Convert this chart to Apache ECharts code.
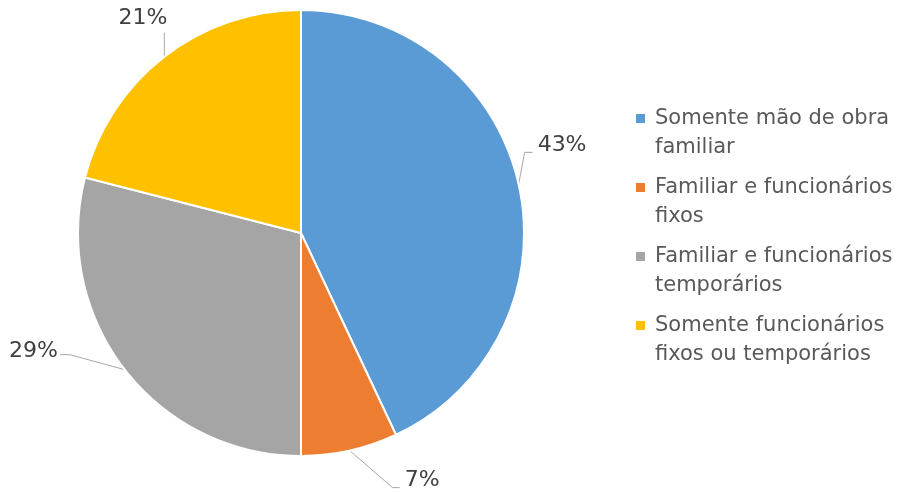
<!DOCTYPE html>
<html>
<head>
<meta charset="utf-8">
<script src="https://cdn.jsdelivr.net/npm/echarts@6/dist/echarts.min.js"></script>
<style>
  html, body { margin: 0; padding: 0; background: #fff; }
  #chart { width: 905px; height: 492px; }
</style>
</head>
<body>
<div id="chart"></div>
<script>
// dados
var categories = [
  'Somente mão de obra familiar',
  'Familiar e funcionários fixos',
  'Familiar e funcionários temporários',
  'Somente funcionários fixos ou temporários'
];
var legendLines = [
  'Somente mão de obra\nfamiliar',
  'Familiar e funcionários\nfixos',
  'Familiar e funcionários\ntemporários',
  'Somente funcionários\nfixos ou temporários'
];
var values = [43, 7, 29, 21];
var colors = ['#5B9BD5', '#ED7D31', '#A5A5A5', '#FFC000'];

// estilo das linhas de rótulo (tipo Excel): cotovelo, trecho horizontal, deslocamento do texto
var labelStyleByIndex = [
  { elbow: [6, -32], h: 8, off: [5, -7], align: 'left' },
  { elbow: [43, 37], h: 7, off: [5, -7], align: 'left' },
  { elbow: [-55, -15], h: -10, off: [-2, -3], align: 'right' },
  { elbow: [0, -24], h: 0, off: [3, -15], align: 'right' }
];

var myChart = echarts.init(document.getElementById('chart'));

var option = {
  animation: false,
  color: colors,
  legend: {
    orient: 'vertical',
    left: 631,
    top: 99,
    // quadrado no topo de uma caixa alta, para alinhar com a 1a linha
    icon: 'path://M0,0h9v9h-9z M0,38h14',
    itemWidth: 14,
    itemHeight: 38,
    itemGap: 11,
    itemStyle: { borderWidth: 0 },
    textStyle: {
      fontFamily: 'DejaVu Sans',
      fontSize: 21,
      color: '#595959',
      lineHeight: 29
    },
    formatter: function (name) {
      return legendLines[categories.indexOf(name)];
    }
  },
  series: [{
    type: 'pie',
    center: [301, 233],
    radius: 223,
    startAngle: 90,
    clockwise: true,
    itemStyle: { borderColor: '#fff', borderWidth: 2 },
    label: {
      position: 'outside',
      formatter: '{c}%',
      fontFamily: 'DejaVu Sans',
      fontSize: 22,
      color: '#404040'
    },
    labelLine: {
      length: 18,
      length2: 10,
      lineStyle: { color: '#A6A6A6', width: 1 }
    },
    labelLayout: function (params) {
      var s = labelStyleByIndex[params.dataIndex];
      var p0 = params.labelLinePoints[0];
      var p1 = [p0[0] + s.elbow[0], p0[1] + s.elbow[1]];
      var p2 = [p1[0] + s.h, p1[1]];
      return {
        x: p2[0] + s.off[0],
        y: p2[1] + s.off[1],
        align: s.align,
        verticalAlign: 'middle',
        labelLinePoints: [p0, p1, p2]
      };
    },
    emphasis: { disabled: true },
    data: categories.map(function (c, i) { return { name: c, value: values[i] }; })
  }]
};

myChart.setOption(option);
</script>
</body>
</html>
